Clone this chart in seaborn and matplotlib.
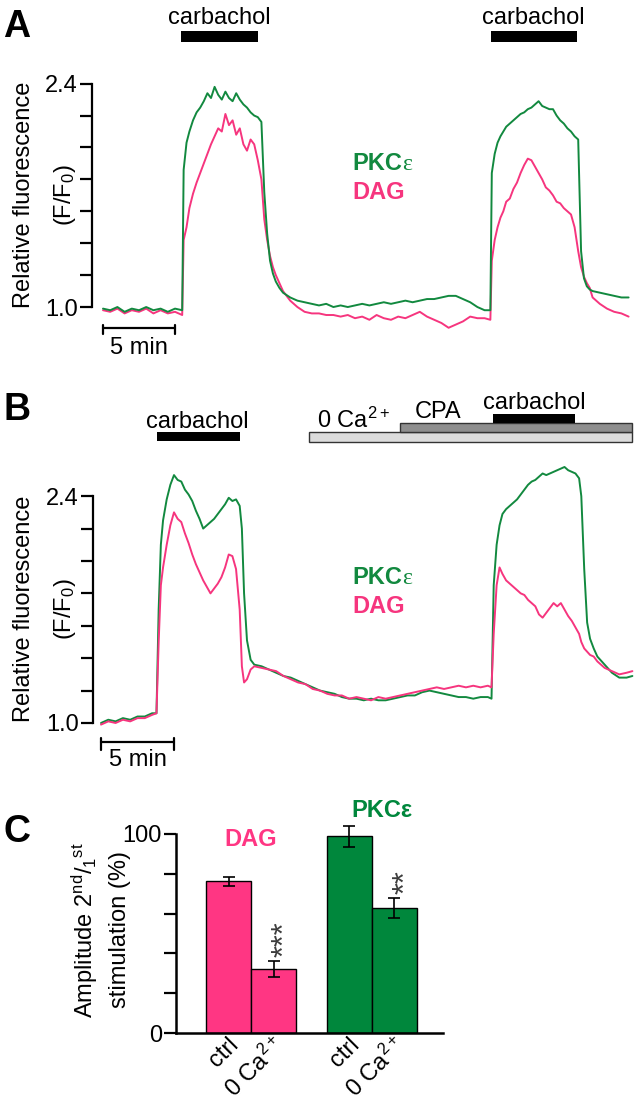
import numpy as np
import pandas as pd
import seaborn as sns
import matplotlib.pyplot as plt
from matplotlib.patches import Rectangle
import matplotlib.transforms as mtransforms

# ---- panel A traces: time (min) and F/F0 ----
t_a = [0, 0.5, 1, 1.5, 2, 2.5, 3, 3.5, 4, 4.5,
       5, 5.5, 5.6, 5.8, 6.0, 6.25, 6.5, 6.75, 7.0, 7.25,
       7.5, 7.75, 8.0, 8.25, 8.5, 8.75, 9.0, 9.25, 9.5, 9.75,
       10.0, 10.25, 10.5, 10.75, 11.0, 11.2, 11.4, 11.6, 11.8, 12.0,
       12.25, 12.5, 13.0, 13.5, 14, 14.5, 15, 15.5, 16, 16.5,
       17, 17.5, 18, 18.5, 19, 19.5, 20, 20.5, 21, 21.5,
       22, 22.5, 23, 23.5, 24, 24.5, 25, 25.5, 26, 26.5,
       26.9, 27.0, 27.2, 27.4, 27.6, 27.8, 28.0, 28.25, 28.5, 28.75,
       29, 29.25, 29.5, 29.75, 30, 30.25, 30.5, 30.75, 31, 31.25,
       31.5, 31.75, 32, 32.25, 32.5, 32.75, 33.0, 33.2, 33.4, 33.6,
       33.8, 34.0, 34.5, 35, 35.5, 36, 36.5]
pkc_a = [0.99, 0.98, 1.00, 0.97, 0.99, 0.98, 1.00, 0.98, 0.99, 0.97,
         0.99, 0.98, 1.86, 2.03, 2.10, 2.17, 2.22, 2.25, 2.29, 2.34,
         2.31, 2.38, 2.33, 2.30, 2.35, 2.31, 2.29, 2.34, 2.30, 2.27,
         2.25, 2.22, 2.20, 2.19, 2.16, 1.72, 1.46, 1.29, 1.21, 1.16,
         1.12, 1.09, 1.06, 1.04, 1.03, 1.02, 1.01, 1.02, 1.00, 1.01,
         1.00, 1.01, 1.02, 1.01, 1.02, 1.03, 1.02, 1.03, 1.04, 1.03,
         1.04, 1.05, 1.05, 1.06, 1.07, 1.07, 1.05, 1.03, 1.00, 0.98,
         0.98, 1.84, 1.96, 2.03, 2.07, 2.10, 2.13, 2.15, 2.17, 2.19,
         2.21, 2.22, 2.24, 2.25, 2.27, 2.29, 2.26, 2.25, 2.24, 2.24,
         2.20, 2.17, 2.15, 2.12, 2.10, 2.07, 2.05, 1.35, 1.18, 1.13,
         1.11, 1.10, 1.09, 1.08, 1.07, 1.06, 1.06]
dag_a = [0.98, 0.97, 0.99, 0.96, 0.98, 0.97, 0.99, 0.96, 0.98, 0.96,
         0.97, 0.95, 1.42, 1.50, 1.62, 1.71, 1.78, 1.84, 1.90, 1.96,
         2.02, 2.07, 2.12, 2.10, 2.21, 2.14, 2.17, 2.08, 2.12, 2.02,
         1.98, 2.05, 2.02, 1.92, 1.80, 1.55, 1.42, 1.32, 1.25, 1.20,
         1.15, 1.10, 1.04, 1.00, 0.97, 0.96, 0.96, 0.95, 0.95, 0.94,
         0.95, 0.93, 0.94, 0.92, 0.95, 0.93, 0.92, 0.94, 0.93, 0.95,
         0.97, 0.94, 0.92, 0.90, 0.87, 0.89, 0.91, 0.94, 0.93, 0.93,
         0.92, 1.29, 1.42, 1.50, 1.56, 1.60, 1.66, 1.68, 1.74, 1.78,
         1.84, 1.89, 1.93, 1.92, 1.88, 1.84, 1.80, 1.75, 1.73, 1.70,
         1.66, 1.65, 1.62, 1.60, 1.58, 1.50, 1.35, 1.25, 1.19, 1.15,
         1.12, 1.06, 1.02, 0.99, 0.97, 0.96, 0.94]

# ---- panel B traces ----
t_b = [0, 0.5, 1, 1.5, 2, 2.5, 3, 3.5, 3.8, 3.95,
       4.1, 4.25, 4.5, 4.75, 5.0, 5.25, 5.5, 5.75, 6.0, 6.25,
       6.5, 6.75, 7.0, 7.25, 7.5, 7.75, 8.0, 8.25, 8.5, 8.75,
       9.0, 9.25, 9.5, 9.65, 9.8, 10.0, 10.25, 10.5, 11.0, 11.5,
       12, 12.5, 13, 13.5, 14, 14.5, 15, 15.5, 16, 16.5,
       17, 17.5, 18, 18.5, 19, 19.5, 20, 20.5, 21, 21.5,
       22, 22.5, 23, 23.5, 24, 24.5, 25, 25.5, 26, 26.5,
       26.75, 26.9, 27.1, 27.3, 27.5, 27.75, 28, 28.25, 28.5, 28.75,
       29, 29.25, 29.5, 29.75, 30, 30.25, 30.5, 30.75, 31, 31.25,
       31.5, 31.75, 32, 32.25, 32.5, 32.75, 32.9, 33.1, 33.3, 33.5,
       33.75, 34.0, 34.5, 35, 35.5, 36, 36.4]
pkc_b = [1.00, 1.02, 1.01, 1.03, 1.02, 1.04, 1.04, 1.06, 1.06, 1.70,
         2.10, 2.25, 2.38, 2.47, 2.53, 2.50, 2.49, 2.44, 2.41, 2.37,
         2.31, 2.26, 2.20, 2.22, 2.24, 2.26, 2.29, 2.32, 2.35, 2.39,
         2.37, 2.38, 2.34, 2.20, 1.80, 1.51, 1.39, 1.36, 1.35, 1.33,
         1.31, 1.29, 1.28, 1.26, 1.24, 1.22, 1.20, 1.19, 1.18, 1.16,
         1.15, 1.15, 1.14, 1.15, 1.14, 1.14, 1.15, 1.16, 1.17, 1.17,
         1.19, 1.20, 1.19, 1.18, 1.17, 1.16, 1.16, 1.15, 1.16, 1.16,
         1.15, 1.85, 2.10, 2.22, 2.29, 2.32, 2.34, 2.36, 2.38, 2.41,
         2.44, 2.47, 2.49, 2.50, 2.52, 2.54, 2.53, 2.54, 2.55, 2.56,
         2.57, 2.58, 2.56, 2.55, 2.54, 2.51, 2.40, 1.95, 1.62, 1.52,
         1.46, 1.41, 1.36, 1.31, 1.28, 1.28, 1.29]
dag_b = [0.99, 1.01, 1.00, 1.02, 1.01, 1.03, 1.03, 1.05, 1.06, 1.50,
         1.85, 1.96, 2.10, 2.22, 2.30, 2.26, 2.24, 2.17, 2.11, 2.04,
         1.98, 1.93, 1.88, 1.84, 1.80, 1.83, 1.86, 1.90, 1.96, 2.04,
         2.03, 1.95, 1.70, 1.35, 1.25, 1.27, 1.33, 1.35, 1.34, 1.33,
         1.32, 1.29, 1.27, 1.25, 1.24, 1.21, 1.20, 1.18, 1.17, 1.17,
         1.15, 1.16, 1.15, 1.14, 1.16, 1.15, 1.16, 1.17, 1.18, 1.19,
         1.20, 1.21, 1.22, 1.21, 1.22, 1.23, 1.22, 1.23, 1.22, 1.23,
         1.22, 1.55, 1.85, 1.96, 1.92, 1.88, 1.86, 1.84, 1.82, 1.80,
         1.79, 1.76, 1.74, 1.72, 1.67, 1.65, 1.68, 1.71, 1.74, 1.72,
         1.74, 1.70, 1.66, 1.63, 1.59, 1.55, 1.50, 1.46, 1.44, 1.42,
         1.41, 1.38, 1.34, 1.32, 1.30, 1.31, 1.32]

# ---- panel C: amplitude of 2nd / 1st stimulation (%) ----
groups = ["DAG", "PKCε"]
conditions = ["ctrl", "0 $\\mathregular{Ca^{2+}}$"]
dag_amp = [76.2, 32.2]
dag_sem = [2.3, 4.2]
pkc_amp = [98.8, 62.8]
pkc_sem = [5.2, 5.0]
stars = ["", "***", "", "**"]

PINK = "#f6357e"
GREEN = "#12893f"
BAR_PINK = "#ff3683"
BAR_GREEN = "#00873c"
FS = 17

sns.set_style("ticks", rc={"axes.edgecolor": "black", "xtick.color": "black",
                           "ytick.color": "black", "text.color": "black"})
plt.rcParams["font.family"] = ["Liberation Sans", "DejaVu Sans"]
plt.rcParams["mathtext.fontset"] = "custom"
plt.rcParams["mathtext.rm"] = "Liberation Sans"
plt.rcParams["mathtext.it"] = "Liberation Sans:italic"
plt.rcParams["mathtext.bf"] = "Liberation Sans:bold"

W, H = 634, 1100
fig = plt.figure(figsize=(W / 100, H / 100), dpi=100)


def px_axes(x0, y0, x1, y1):
    return fig.add_axes([x0 / W, 1 - y1 / H, (x1 - x0) / W, (y1 - y0) / H])


def ftext(x, y, s, **kw):
    fig.text(x / W, 1 - y / H, s, **kw)


def trace_panel(ax, t, pkc, dag, order, xlim, ylim):
    df = pd.DataFrame({"t": t, "PKCε": pkc, "DAG": dag})
    df = df.melt("t", var_name="probe", value_name="ratio")
    sns.lineplot(data=df, x="t", y="ratio", hue="probe", hue_order=order,
                 palette={"PKCε": GREEN, "DAG": PINK}, estimator=None,
                 sort=False, legend=False, linewidth=1.4, ax=ax)
    ax.set_xlim(*xlim)
    ax.set_ylim(*ylim)
    for s in ["top", "right", "bottom"]:
        ax.spines[s].set_visible(False)
    ax.spines["left"].set_bounds(1.0, 2.4)
    ax.spines["left"].set_linewidth(1.6)
    ax.set_yticks(np.linspace(1.0, 2.4, 8))
    ax.set_yticklabels(["1.0", "", "", "", "", "", "", "2.4"])
    ax.tick_params(axis="y", length=9, width=1.6, pad=1, labelsize=FS)
    ax.set_xticks([])
    ax.set_xlabel("")
    ax.set_ylabel("")


def scale_bar(ax, y, dy, ytxt):
    ax.plot([0, 5], [y, y], color="black", lw=1.6, clip_on=False)
    for x in (0, 5):
        ax.plot([x, x], [y + dy, y - 2 * dy], color="black", lw=1.6, clip_on=False)
    ax.text(2.5, ytxt, "5 min", ha="center", va="center", fontsize=FS)


def pkc_dag_labels(ax, x, y1, y2):
    lab = ax.text(x, y1, "PKC", color=GREEN, fontsize=FS, fontweight="bold",
                  ha="left", va="center")
    ax.annotate("ε", xy=(1, 0), xycoords=lab, ha="left", va="bottom",
                color=GREEN, fontsize=FS, family="Liberation Serif")
    ax.text(x, y2, "DAG", color=PINK, fontsize=FS, fontweight="bold",
            ha="left", va="center")


# ---------------- panel A ----------------
axa = px_axes(92, 5, 634, 360)
trace_panel(axa, t_a, pkc_a, dag_a, ["DAG", "PKCε"], (-0.764, 36.875), (0.668, 2.893))
for x0, x1, xc in [(5.42, 10.76, 8.1), (26.94, 32.92, 29.9)]:
    axa.add_patch(Rectangle((x0, 2.66), x1 - x0, 0.07, color="black", lw=0))
    axa.text(xc, 2.81, "carbachol", ha="center", va="center", fontsize=FS)
scale_bar(axa, 0.868, 0.02, 0.743)
pkc_dag_labels(axa, 17.3, 1.90, 1.715)

# ---------------- panel B ----------------
axb = px_axes(93, 385, 634, 775)
trace_panel(axb, t_b, pkc_b, dag_b, ["PKCε", "DAG"], (-0.548, 36.51), (0.679, 3.086))
axb.add_patch(Rectangle((3.84, 2.741), 5.68, 0.055, color="black", lw=0))
axb.text(6.6, 2.86, "carbachol", ha="center", va="center", fontsize=FS)
axb.add_patch(Rectangle((14.25, 2.735), 22.15, 0.061, facecolor="#dcdcdc",
                        edgecolor="#333333", lw=1))
axb.add_patch(Rectangle((20.5, 2.796), 15.9, 0.056, facecolor="#8e8e8e",
                        edgecolor="#333333", lw=1))
axb.add_patch(Rectangle((26.85, 2.852), 5.65, 0.055, color="black", lw=0))
axb.text(14.8, 2.82, "0 $\\mathregular{Ca^{2+}}$", ha="left", va="baseline", fontsize=FS)
axb.text(23.1, 2.88, "CPA", ha="center", va="baseline", fontsize=FS)
axb.text(29.66, 2.94, "carbachol", ha="center", va="baseline", fontsize=FS)
scale_bar(axb, 0.883, 0.025, 0.77)
pkc_dag_labels(axb, 17.2, 1.90, 1.716)

for yc in (195, 609):
    ftext(24, yc, "Relative fluorescence", rotation=90, ha="center", va="center", fontsize=FS)
    ftext(65, yc, "(F/F$_0$)", rotation=90, ha="center", va="center", fontsize=FS)

# ---------------- panel C ----------------
axc = px_axes(176, 814, 443, 1033)
df_c = pd.DataFrame({
    "group": [groups[0]] * 2 + [groups[1]] * 2,
    "condition": conditions * 2,
    "amp": dag_amp + pkc_amp,
    "sem": dag_sem + pkc_sem,
})
sns.barplot(data=df_c, x="group", y="amp", hue="condition", order=groups,
            hue_order=conditions, width=0.744, gap=0, errorbar=None,
            legend=False, edgecolor="black", linewidth=1, ax=axc)
bars = sorted(axc.patches, key=lambda p: p.get_x())
centers = [p.get_x() + p.get_width() / 2 for p in bars]
heights = [p.get_height() for p in bars]
for p, c in zip(bars, centers):
    p.set_facecolor(BAR_PINK if c < 0.5 else BAR_GREEN)
axc.errorbar(centers, heights, yerr=df_c["sem"], fmt="none", ecolor="black",
             elinewidth=1.2, capsize=4, capthick=1.2)
for c, h, e, s in zip(centers, heights, df_c["sem"], stars):
    if s:
        axc.text(c + 0.1, h + e + 2, s, rotation=90, ha="center", va="bottom",
                 color="#3c3c3c", fontsize=22)
axc.set_xlim(-0.62, 1.587)
axc.set_ylim(0, 110)
axc.spines["top"].set_visible(False)
axc.spines["right"].set_visible(False)
axc.spines["left"].set_bounds(0, 100)
for s in ("left", "bottom"):
    axc.spines[s].set_linewidth(1.8)
axc.set_yticks([0, 20, 40, 60, 80, 100])
axc.set_yticklabels(["0", "", "", "", "", "100"])
axc.tick_params(axis="y", length=9, width=1.6, pad=1, labelsize=FS)
axc.set_xticks(centers)
axc.set_xticklabels(conditions * 2, rotation=45, ha="right", va="center",
                    rotation_mode="anchor", fontsize=FS)
axc.tick_params(axis="x", length=0, pad=6)
shift = mtransforms.ScaledTranslation(7 / 100, 0, fig.dpi_scale_trans)
for lab in axc.get_xticklabels():
    lab.set_transform(lab.get_transform() + shift)
axc.set_xlabel("")
axc.set_ylabel("")
axc.text(0.0, 97, "DAG", color=BAR_PINK, fontsize=FS, fontweight="bold",
         ha="center", va="center")
axc.text(1.08, 112, "PKCε", color=BAR_GREEN, fontsize=FS, fontweight="bold",
         ha="center", va="center", clip_on=False)
ftext(85, 930, "Amplitude 2$^{\\rm nd}$/$_{\\rm 1}$$^{\\rm st}$", rotation=90,
      ha="center", va="center", fontsize=FS)
ftext(120, 930, "stimulation (%)", rotation=90, ha="center", va="center", fontsize=FS)

# panel letters
for letter, (x, y) in {"A": (17, 27), "B": (17, 410), "C": (17, 832)}.items():
    ftext(x, y, letter, fontsize=27, fontweight="bold", ha="center", va="center")

fig.savefig("out.png", dpi=100)
